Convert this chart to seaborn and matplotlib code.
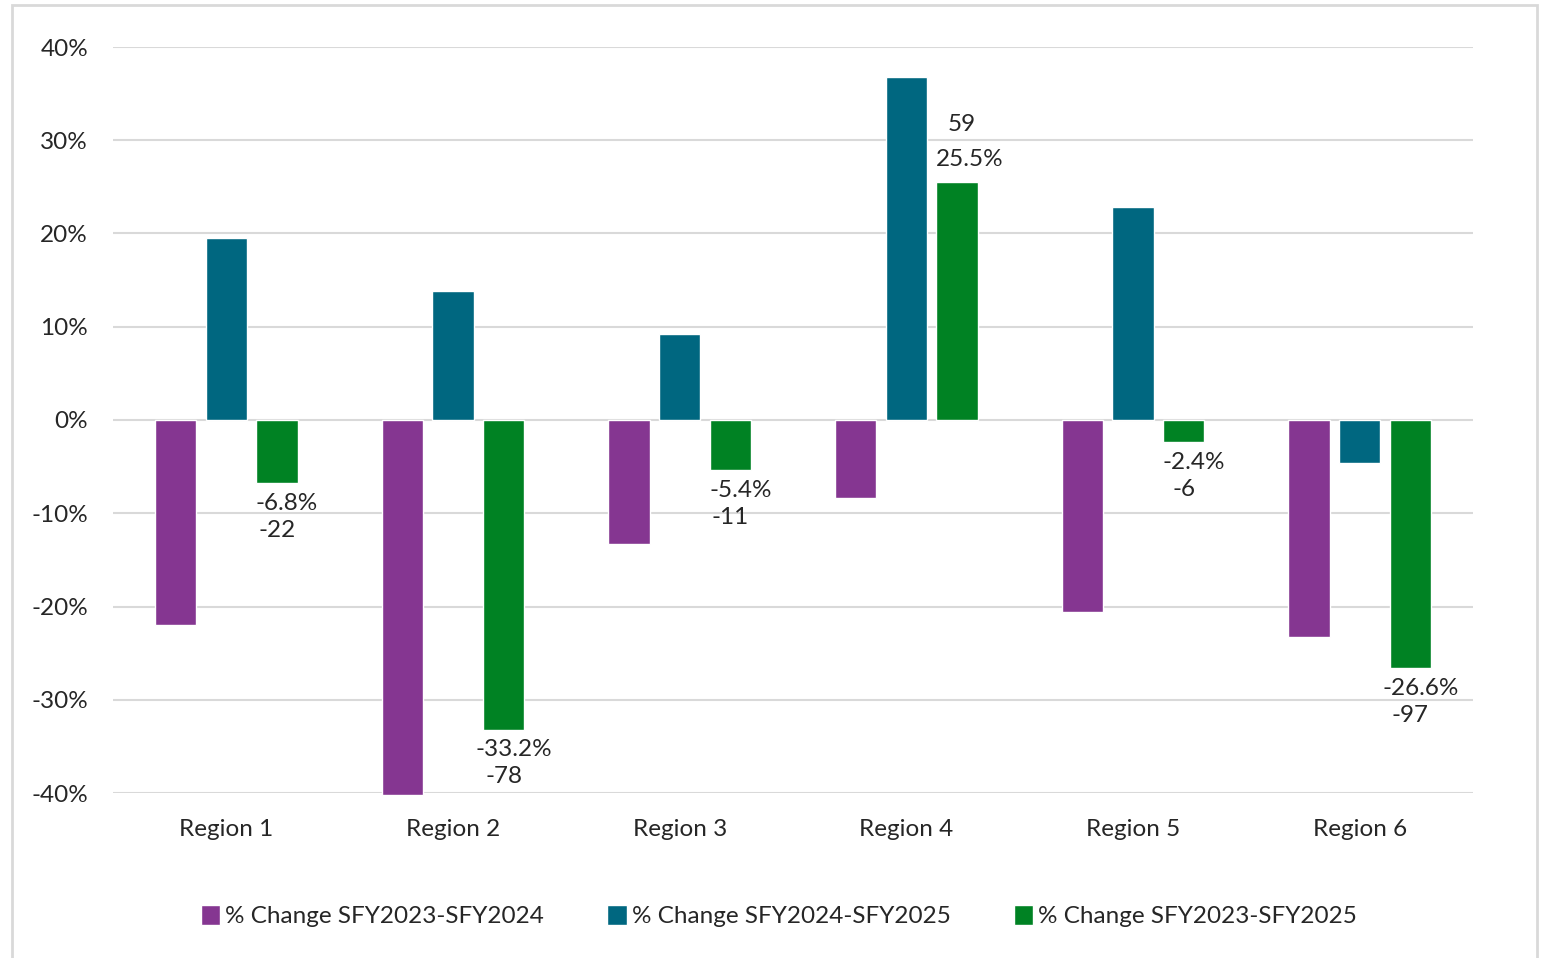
import matplotlib
matplotlib.use("Agg")
import matplotlib.pyplot as plt
import matplotlib.patches as mpatches
import seaborn as sns
import pandas as pd

regions = ["Region 1", "Region 2", "Region 3", "Region 4", "Region 5", "Region 6"]
series_names = ["% Change SFY2023-SFY2024", "% Change SFY2024-SFY2025", "% Change SFY2023-SFY2025"]
chg_23_24 = [-22.0, -40.2, -13.3, -8.4, -20.6, -23.3]
chg_24_25 = [19.5, 13.8, 9.2, 36.8, 22.8, -4.6]
chg_23_25 = [-6.8, -33.2, -5.4, 25.5, -2.4, -26.6]
counts_23_25 = [-22, -78, -11, 59, -6, -97]
colors = ["#853691", "#006780", "#008223"]
yticks = [-40, -30, -20, -10, 0, 10, 20, 30, 40]

rows = []
for name, vals in zip(series_names, [chg_23_24, chg_24_25, chg_23_25]):
    for r, v in zip(regions, vals):
        rows.append({"region": r, "series": name, "value": v})
df = pd.DataFrame(rows)

sns.set_theme(style="white")
plt.rcParams["font.family"] = ["Lato", "DejaVu Sans"]
txt = "#262626"
fs = 17.5

fig = plt.figure(figsize=(15.41, 9.58), dpi=100)
ax = fig.add_axes([113 / 1541, 165 / 958, 1360 / 1541, 746 / 958])

sns.barplot(data=df, x="region", y="value", hue="series", hue_order=series_names,
            order=regions, palette=colors, width=0.67, gap=0.18, saturation=1,
            errorbar=None, ax=ax, legend=True, zorder=3)
for cont in ax.containers:
    for b in cont:
        b.set_clip_on(False)

ax.set_ylim(-40, 40)
ax.set_xlim(-0.5, 5.5)
ax.set_yticks(yticks)
ax.set_yticklabels([f"{t}%" for t in yticks])
ax.yaxis.grid(True, color="#D9D9D9", linewidth=1.5, zorder=0)
ax.set_axisbelow(True)
for s in ax.spines.values():
    s.set_visible(False)
ax.set_xlabel("")
ax.set_ylabel("")
ax.tick_params(axis="y", length=0, pad=18, labelsize=fs, labelcolor=txt)
ax.tick_params(axis="x", length=0, pad=19, labelsize=fs, labelcolor=txt)

# labels on the SFY2023-SFY2025 bars
green_container = ax.containers[2]
for bar, pct, cnt in zip(green_container, chg_23_25, counts_23_25):
    xc = bar.get_x() + bar.get_width() / 2
    if pct >= 0:
        ax.annotate(f"{pct:.1f}%", (xc, pct), xytext=(13, 23), textcoords="offset pixels",
                    ha="center", va="center", fontsize=fs, color=txt)
        ax.annotate(f"{cnt}", (xc, pct), xytext=(5, 58), textcoords="offset pixels",
                    ha="center", va="center", fontsize=fs, color=txt)
    else:
        ax.annotate(f"{pct:.1f}%", (xc, pct), xytext=(10, -20), textcoords="offset pixels",
                    ha="center", va="center", fontsize=fs, color=txt)
        ax.annotate(f"{cnt}", (xc, pct), xytext=(0, -47), textcoords="offset pixels",
                    ha="center", va="center", fontsize=fs, color=txt)

handles, labels = ax.get_legend_handles_labels()
ax.get_legend().remove()
fig.legend(handles, labels, loc="center", bbox_to_anchor=(779 / 1541, 42 / 958), ncol=3,
           frameon=False, fontsize=fs, handlelength=0.8, handleheight=0.9, handletextpad=0.2,
           columnspacing=2.6, labelcolor=txt)

border = mpatches.Rectangle((12 / 1541, -0.01), 1525 / 1541, (953 / 958) + 0.01,
                            transform=fig.transFigure, fill=False, edgecolor="#D9D9D9",
                            linewidth=2, zorder=0)
fig.patches.append(border)

fig.savefig("out.png", dpi=100)
